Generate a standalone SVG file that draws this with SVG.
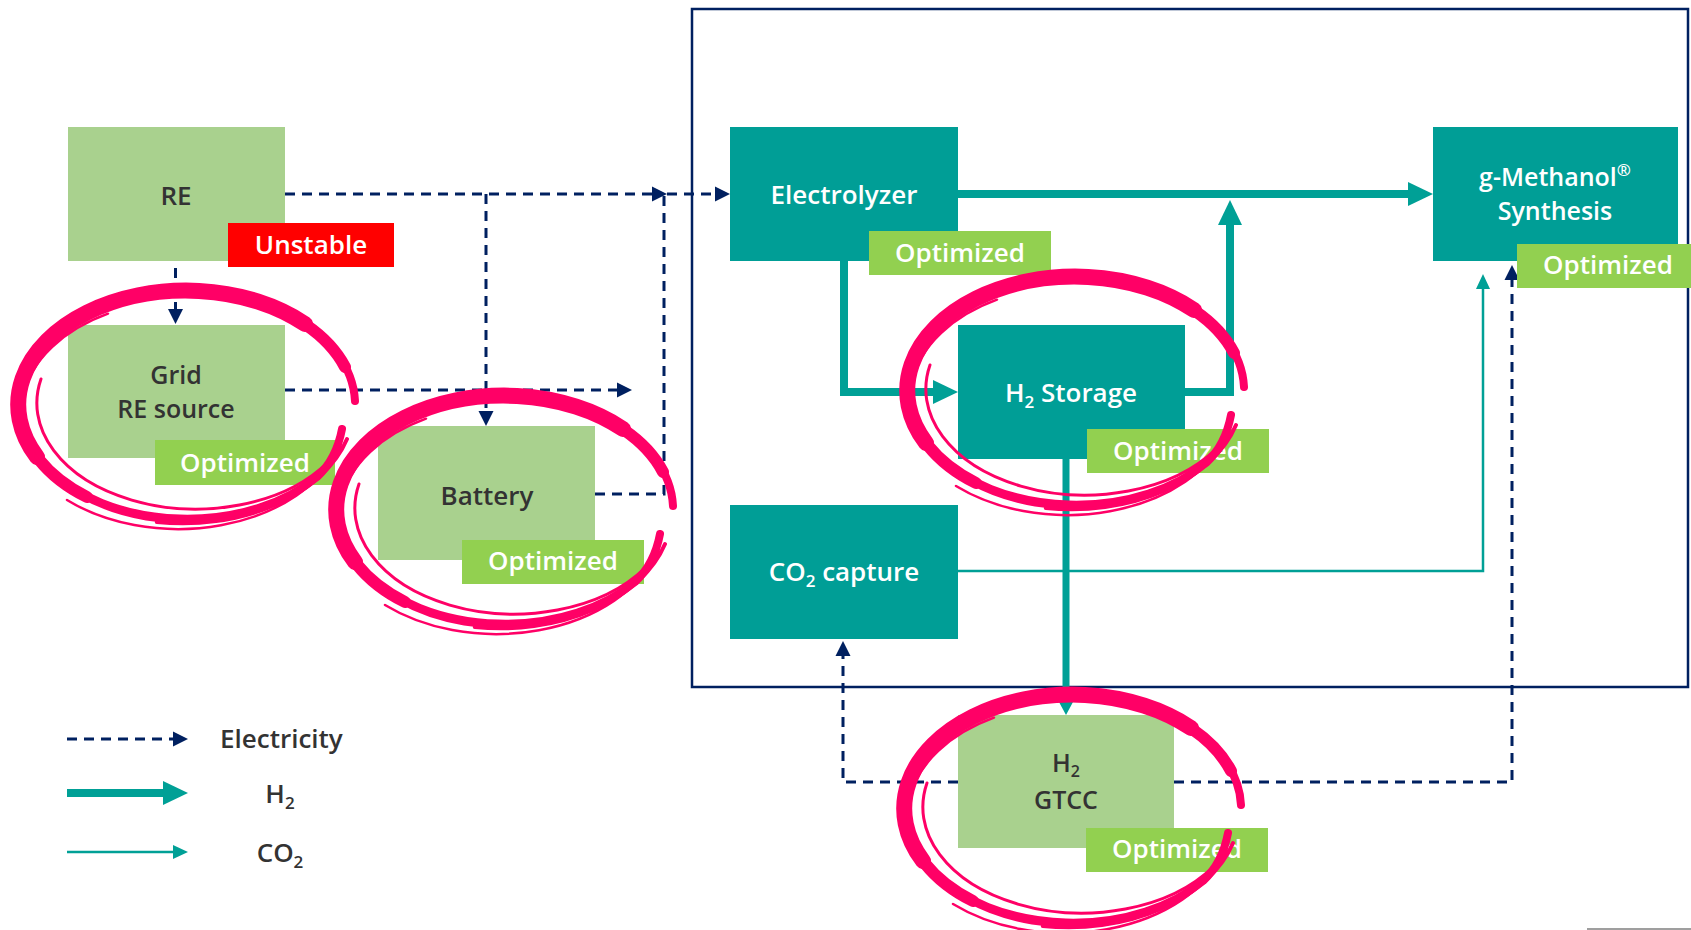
<svg xmlns="http://www.w3.org/2000/svg" xmlns:xlink="http://www.w3.org/1999/xlink" width="1691" height="930" viewBox="0 0 1691 930">
<style>
.lg{fill:#A9D18E}
.tl{fill:#009E96}
.op{fill:#92D050}
.red{fill:#FF0000}
text{font-family:"Open Sans","Noto Sans","Liberation Sans",sans-serif;font-weight:600;font-size:26px;text-anchor:middle}
.two{font-size:25px}
.dk{fill:#333333}
.wt{fill:#FFFFFF}
.el{fill:none;stroke:#002060;stroke-width:3;stroke-dasharray:10 7}
.h2{fill:none;stroke:#00A096;stroke-width:8;stroke-linejoin:miter}
.h2s{fill:none;stroke:#00A096;stroke-width:7}
.co{fill:none;stroke:#00A096;stroke-width:2.5}
.pk{fill:none;stroke:#FF0066;stroke-linecap:round}
</style>
<defs>
<marker id="aE" markerUnits="userSpaceOnUse" markerWidth="18" markerHeight="18" viewBox="0 -9 18 18" refX="1" refY="0" orient="auto"><path d="M0,-7.5 L15,0 L0,7.5z" fill="#002060"/></marker>
<marker id="aH" markerUnits="userSpaceOnUse" markerWidth="28" markerHeight="28" viewBox="0 -14 28 28" refX="1" refY="0" orient="auto"><path d="M0,-12 L25,0 L0,12z" fill="#00A096"/></marker>
<marker id="aHs" markerUnits="userSpaceOnUse" markerWidth="16" markerHeight="16" viewBox="0 -8 16 16" refX="1" refY="0" orient="auto"><path d="M0,-7 L13,0 L0,7z" fill="#00A096"/></marker>
<marker id="aC" markerUnits="userSpaceOnUse" markerWidth="18" markerHeight="18" viewBox="0 -9 18 18" refX="1" refY="0" orient="auto"><path d="M0,-7 L15,0 L0,7z" fill="#00A096"/></marker>
<g id="ring">
<path class="pk" stroke-width="8" d="M168,-4 A168 114 0 1 0 130,72 C145,58 152,40 155,24"/>
<path class="pk" stroke-width="12" d="M158,-38 A168 114 0 1 0 -100,92"/>
<path class="pk" stroke-width="16" d="M118,-81 A168 114 0 0 0 -150,52"/>
<path class="pk" stroke-width="3" d="M-146,-26 A159 106 0 0 0 140,58"/>
<path class="pk" stroke-width="2.5" d="M-79,-91.3 A164 111 0 1 0 154.2,41.6"/>
<path class="pk" stroke-width="4" d="M-30.2,117 A171 117 0 0 0 160,34"/>
<path class="pk" stroke-width="2.5" d="M-120,95 A168 116 0 0 0 150,46"/>
</g>
</defs>

<rect id="frame" x="692" y="9" width="996" height="678" fill="none" stroke="#002060" stroke-width="2.5"/>

<g id="connectors">
<path class="el" d="M285,194 H653" marker-end="url(#aE)"/>
<path class="el" d="M667,194 H716" marker-end="url(#aE)"/>
<path class="el" d="M175.5,268 V310" marker-end="url(#aE)"/>
<path class="el" d="M486,194 V412" marker-end="url(#aE)"/>
<path class="el" d="M285,390 H618" marker-end="url(#aE)"/>
<path class="el" d="M595,494 H664 V194"/>
<path class="el" d="M958,782 H843 V655" marker-end="url(#aE)"/>
<path class="el" d="M1174,782 H1512 V279" marker-end="url(#aE)"/>
<path class="h2" d="M958,194 H1409" marker-end="url(#aH)"/>
<path class="h2" d="M844,261 V392 H934" marker-end="url(#aH)"/>
<path class="h2" d="M1185,392 H1230 V224" marker-end="url(#aH)"/>
<path class="h2s" d="M1066,459 V703" marker-end="url(#aHs)"/>
<path class="co" d="M958,571 H1483 V288" marker-end="url(#aC)"/>
</g>

<g id="node-re">
<rect class="lg" x="68" y="127" width="217" height="134"/>
<text class="dk" x="176" y="205">RE</text>
</g>
<g id="tag-unstable">
<rect class="red" x="228" y="223" width="166" height="44"/>
<text class="wt" x="311" y="254">Unstable</text>
</g>
<g id="node-grid">
<rect class="lg" x="68" y="325" width="217" height="133"/>
<text class="dk two" x="176" y="384">Grid</text>
<text class="dk two" x="176" y="418">RE source</text>
</g>
<g id="tag-grid">
<rect class="op" x="155" y="440" width="180" height="45"/>
<text class="wt" x="245" y="472">Optimized</text>
</g>
<g id="node-battery">
<rect class="lg" x="378" y="426" width="217" height="134"/>
<text class="dk" x="487" y="505">Battery</text>
</g>
<g id="tag-battery">
<rect class="op" x="462" y="540" width="182" height="44"/>
<text class="wt" x="553" y="570">Optimized</text>
</g>
<g id="node-electrolyzer">
<rect class="tl" x="730" y="127" width="228" height="134"/>
<text class="wt" x="844" y="204">Electrolyzer</text>
</g>
<g id="tag-electrolyzer">
<rect class="op" x="869" y="231" width="182" height="44"/>
<text class="wt" x="960" y="262">Optimized</text>
</g>
<g id="node-methanol">
<rect class="tl" x="1433" y="127" width="245" height="134"/>
<text class="wt two" x="1555" y="186">g-Methanol<tspan font-size="17" dy="-10">®</tspan></text>
<text class="wt two" x="1555" y="220">Synthesis</text>
</g>
<g id="tag-methanol">
<rect class="op" x="1517" y="244" width="182" height="44"/>
<text class="wt" x="1608" y="274">Optimized</text>
</g>
<g id="node-h2storage">
<rect class="tl" x="958" y="325" width="227" height="134"/>
<text class="wt" x="1071" y="402">H<tspan font-size="17" dy="6">2</tspan><tspan dy="-6"> Storage</tspan></text>
</g>
<g id="tag-h2storage">
<rect class="op" x="1087" y="429" width="182" height="44"/>
<text class="wt" x="1178" y="460">Optimized</text>
</g>
<g id="node-co2capture">
<rect class="tl" x="730" y="505" width="228" height="134"/>
<text class="wt" x="844" y="581">CO<tspan font-size="17" dy="6">2</tspan><tspan dy="-6"> capture</tspan></text>
</g>
<g id="node-gtcc">
<rect class="lg" x="958" y="715" width="216" height="133"/>
<text class="dk two" x="1066" y="772">H<tspan font-size="16" dy="5">2</tspan></text>
<text class="dk two" x="1066" y="809">GTCC</text>
</g>
<g id="tag-gtcc">
<rect class="op" x="1086" y="828" width="182" height="44"/>
<text class="wt" x="1177" y="858">Optimized</text>
</g>

<g id="highlights">
<use xlink:href="#ring" transform="translate(187,405)"/>
<use xlink:href="#ring" transform="translate(505,510)"/>
<use xlink:href="#ring" transform="translate(1076,391)"/>
<use xlink:href="#ring" transform="translate(1073,809)"/>
</g>

<g id="legend">
<path class="el" d="M67,739 H174" marker-end="url(#aE)"/>
<path class="h2" d="M67,793 H164" marker-end="url(#aH)"/>
<path class="co" d="M67,852 H174" marker-end="url(#aC)"/>
<text class="dk" x="220" y="748" style="text-anchor:start">Electricity</text>
<text class="dk" x="280" y="803">H<tspan font-size="17" dy="6">2</tspan></text>
<text class="dk" x="280" y="862">CO<tspan font-size="17" dy="6">2</tspan></text>
</g>

<line x1="1587" y1="929" x2="1691" y2="929" stroke="#7F7F7F" stroke-width="1.5"/>
</svg>
